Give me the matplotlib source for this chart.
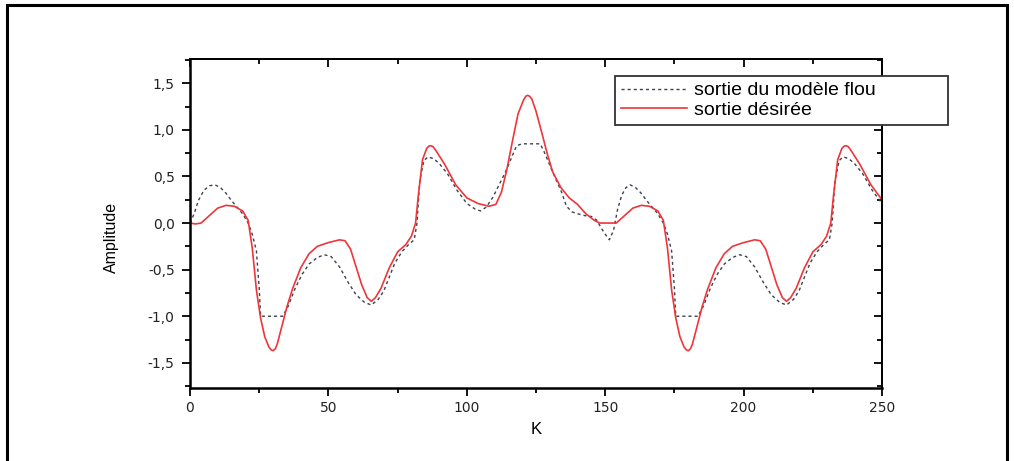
import matplotlib
matplotlib.use("Agg")
import matplotlib.pyplot as plt
from matplotlib.patches import Rectangle
from matplotlib.ticker import MultipleLocator, FuncFormatter

# desired output (red solid line)
k_desired = [0, 2, 4, 7, 10, 13, 16, 19, 21, 22.5, 24, 25.5, 27, 28.5, 29.3, 30, 30.8,
             31.5, 33, 35, 37, 40, 43, 46, 50, 54, 56, 58, 60, 62, 64, 65.5, 67, 69, 72,
             75, 78, 80, 81.5, 82.5, 84, 85.5, 86.3, 87, 87.8, 89, 92, 96, 100, 104, 108,
             110.5, 112.5, 114.5, 116.5, 118.5, 120.5, 121.3, 122, 122.7, 123.5, 125,
             127, 129, 131, 134, 137, 140, 143, 146, 148, 150, 152, 154, 157, 160, 163,
             166, 169, 171, 172.5, 174, 175.5, 177, 178.5, 179.3, 180, 180.8, 181.5, 183,
             185, 187, 190, 193, 196, 200, 204, 206, 208, 210, 212, 214, 215.5, 217,
             219, 222, 225, 228, 230, 231.5, 232.5, 234, 235.5, 236.3, 237, 237.8, 239,
             242, 246, 250]
y_desired = [0.0, -0.01, 0.0, 0.08, 0.16, 0.19, 0.18, 0.13, 0.03, -0.27, -0.72, -1.02,
             -1.22, -1.33, -1.36, -1.37, -1.35, -1.3, -1.13, -0.9, -0.71, -0.48, -0.33,
             -0.25, -0.21, -0.18, -0.19, -0.28, -0.47, -0.66, -0.8, -0.84, -0.8, -0.7,
             -0.48, -0.31, -0.23, -0.14, 0.0, 0.3, 0.68, 0.8, 0.825, 0.83, 0.82, 0.77,
             0.63, 0.41, 0.27, 0.21, 0.18, 0.2, 0.33, 0.58, 0.88, 1.17, 1.32, 1.36, 1.37,
             1.36, 1.33, 1.2, 0.98, 0.75, 0.55, 0.38, 0.27, 0.2, 0.1, 0.03, 0.0, 0.0,
             0.0, 0.0, 0.08, 0.16, 0.19, 0.18, 0.13, 0.03, -0.27, -0.72, -1.02, -1.22,
             -1.33, -1.36, -1.37, -1.35, -1.3, -1.13, -0.9, -0.71, -0.48, -0.33, -0.25,
             -0.21, -0.18, -0.19, -0.28, -0.47, -0.66, -0.8, -0.84, -0.8, -0.7, -0.48,
             -0.31, -0.23, -0.14, 0.0, 0.3, 0.68, 0.8, 0.825, 0.83, 0.82, 0.77, 0.63,
             0.41, 0.25]

# fuzzy model output (dotted line)
k_fuzzy = [0, 1.5, 3, 5, 7, 9, 11, 13, 15, 17, 19, 21, 22.5, 24, 25, 25.5, 28, 31, 33.5,
           35.5, 38, 40.5, 43, 46, 48.5, 51, 54, 57, 60, 63, 65.5, 68, 70, 72, 74, 76.5,
           79, 81, 82, 83, 84.5, 86, 88, 90, 93, 96.5, 100, 103, 105, 107, 109.5, 112,
           114, 116, 118, 120, 123, 126.5, 128, 130, 132, 134, 136, 138, 140, 142.5, 145,
           147, 148.5, 150, 151.5, 153, 154.5, 156, 157.5, 159, 161, 163, 165, 167, 169,
           171, 172.5, 174, 175, 175.5, 178, 181, 183.5, 185.5, 188, 190.5, 193, 196,
           198.5, 201, 204, 207, 210, 213, 215.5, 218, 220, 222, 224, 226.5, 229, 231,
           232, 233, 234.5, 236, 238, 240, 243, 246.5, 250]
y_fuzzy = [0.0, 0.1, 0.24, 0.35, 0.4, 0.41, 0.38, 0.32, 0.24, 0.17, 0.1, 0.0, -0.12, -0.3,
           -0.7, -1.0, -1.0, -1.0, -1.0, -0.89, -0.7, -0.55, -0.44, -0.37, -0.34, -0.36,
           -0.47, -0.63, -0.77, -0.85, -0.88, -0.82, -0.73, -0.58, -0.43, -0.31, -0.23,
           -0.18, 0.0, 0.45, 0.67, 0.71, 0.69, 0.64, 0.53, 0.35, 0.21, 0.15, 0.13, 0.17,
           0.28, 0.43, 0.55, 0.69, 0.83, 0.85, 0.85, 0.85, 0.76, 0.62, 0.48, 0.35, 0.18,
           0.12, 0.1, 0.08, 0.07, 0.03, -0.05, -0.12, -0.18, -0.08, 0.15, 0.3, 0.38,
           0.41, 0.38, 0.32, 0.24, 0.17, 0.1, 0.0, -0.12, -0.3, -0.7, -1.0, -1.0, -1.0,
           -1.0, -0.89, -0.7, -0.55, -0.44, -0.37, -0.34, -0.36, -0.47, -0.63, -0.77,
           -0.85, -0.88, -0.82, -0.73, -0.58, -0.43, -0.31, -0.23, -0.18, 0.0, 0.45,
           0.67, 0.71, 0.69, 0.64, 0.53, 0.35, 0.21]

label_fuzzy = "sortie du modèle flou"
label_desired = "sortie désirée"

plt.rcParams['font.family'] = ['Liberation Sans', 'DejaVu Sans']

fig = plt.figure(figsize=(10.14, 4.61), dpi=100)
ax = fig.add_axes([190/1014, 1-388/461, 692/1014, 329/461])

ax.plot(k_fuzzy, y_fuzzy, color='#3a4250', lw=1.0, ls=(0, (2.2, 2.2)), label=label_fuzzy)
ax.plot(k_desired, y_desired, color='#f0353a', lw=1.2, label=label_desired)

ax.set_xlim(0, 250)
ax.set_ylim(-1.77, 1.76)
ax.xaxis.set_major_locator(MultipleLocator(50))
ax.xaxis.set_minor_locator(MultipleLocator(25))
ax.yaxis.set_major_locator(MultipleLocator(0.5))
ax.yaxis.set_minor_locator(MultipleLocator(0.25))
ax.yaxis.set_major_formatter(FuncFormatter(lambda v, p: ('%.1f' % v).replace('.', ',')))

ax.tick_params(which='both', direction='out', top=False, right=False, width=1.3)
ax.tick_params(which='major', length=6)
ax.tick_params(which='minor', length=3.5)
ax.tick_params(axis='y', which='major', pad=5, labelsize=10, labelcolor='#222222')
ax.tick_params(axis='x', which='major', pad=3, labelsize=10, labelcolor='#222222')
for t in ax.get_xticklabels() + ax.get_yticklabels():
    t.set_family('DejaVu Sans')

# inward ticks on the top and right edges
sec_x = ax.secondary_xaxis('top')
sec_x.xaxis.set_major_locator(MultipleLocator(50))
sec_x.xaxis.set_minor_locator(MultipleLocator(25))
sec_x.tick_params(which='both', direction='in', labeltop=False, width=1.3)
sec_x.tick_params(which='major', length=6)
sec_x.tick_params(which='minor', length=3.5)
sec_y = ax.secondary_yaxis('right')
sec_y.yaxis.set_major_locator(MultipleLocator(0.5))
sec_y.yaxis.set_minor_locator(MultipleLocator(0.25))
sec_y.tick_params(which='both', direction='in', labelright=False, width=1.3)
sec_y.tick_params(which='major', length=6)
sec_y.tick_params(which='minor', length=3.5)
for s in (sec_x, sec_y):
    for sp in s.spines.values():
        sp.set_linewidth(1.3)

for side in ('left', 'bottom'):
    ax.spines[side].set_linewidth(1.8)
for side in ('top', 'right'):
    ax.spines[side].set_linewidth(1.3)

ax.set_xlabel('K', fontsize=12)
ax.set_ylabel('Amplitude', fontsize=11.5)
ax.xaxis.set_label_coords(0.5, -0.104)
ax.yaxis.set_label_coords(-0.1026, 0.459)

leg = ax.legend(loc='upper left', bbox_to_anchor=(615/1014, 1-124/461, 333/1014, 48/461),
                bbox_transform=fig.transFigure, mode='expand', borderaxespad=0,
                fontsize=14, handlelength=3.4, handletextpad=0.35, labelspacing=0.1,
                borderpad=0.3, fancybox=False, framealpha=1)
leg.get_frame().set_edgecolor('#333333')
leg.get_frame().set_linewidth(1.3)

# outer frame of the picture
fig.patches.append(Rectangle((7/1014, -0.05), 1000/1014, 1.05 - 5/461,
                             transform=fig.transFigure, fill=False, lw=2.2,
                             edgecolor='black', clip_on=False))

fig.savefig('out.png', dpi=100)
